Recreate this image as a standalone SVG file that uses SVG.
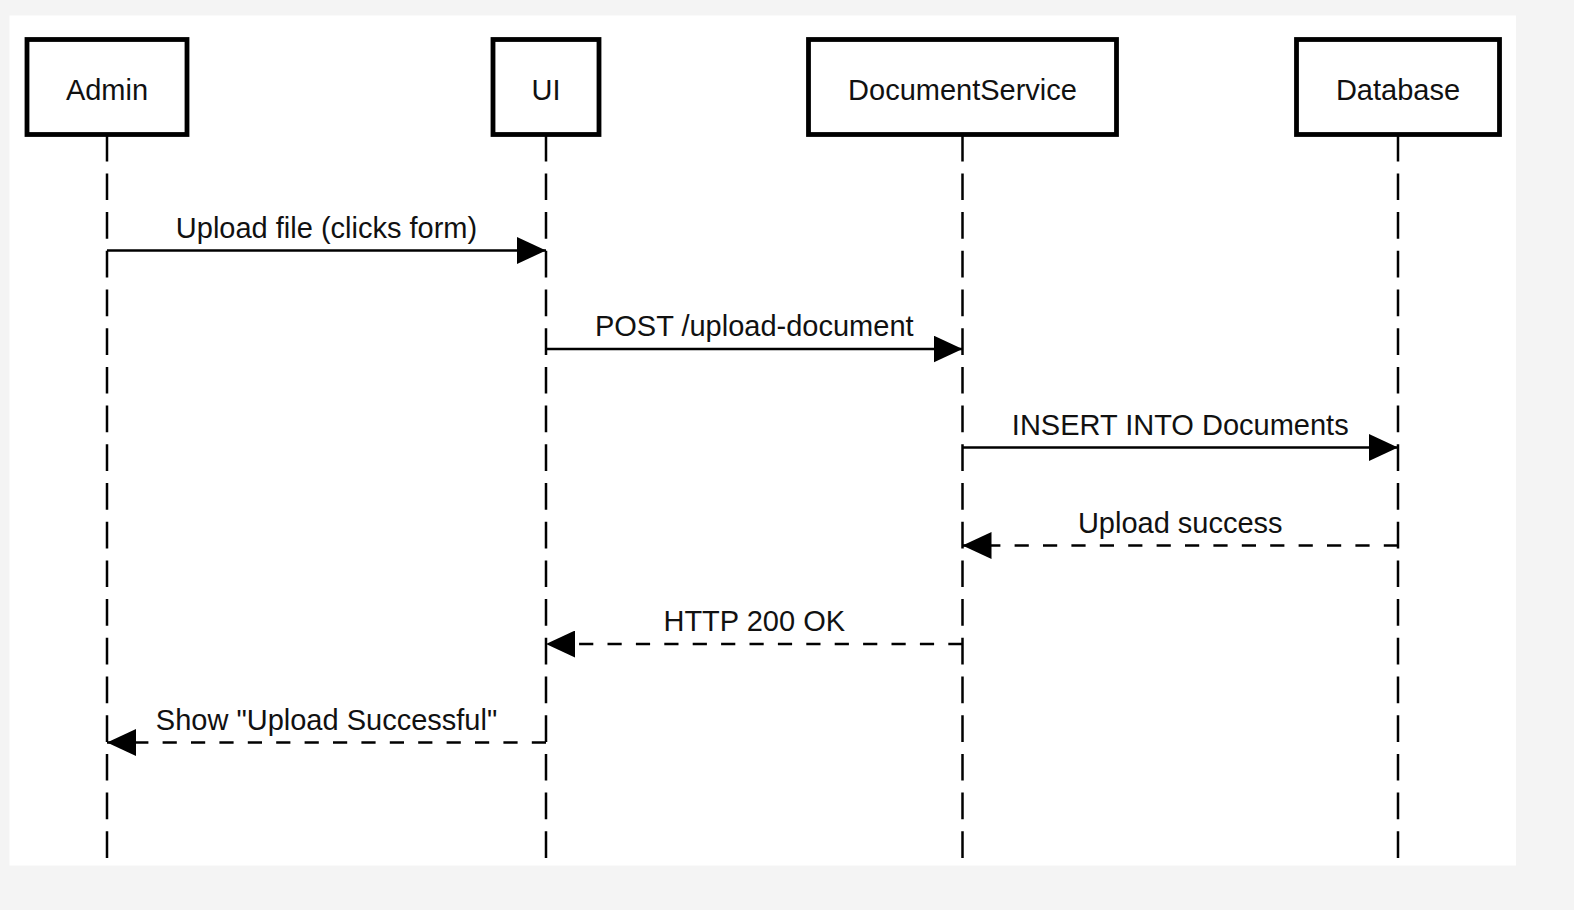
<svg xmlns="http://www.w3.org/2000/svg" width="1574" height="910" viewBox="0 0 1574 910">
  <style>
    .box { fill: #ffffff; stroke: #000000; stroke-width: 4.8; }
    .lbl { font-family: "Liberation Sans", Arial, Helvetica, sans-serif; font-size: 29px; fill: #111111; text-anchor: middle; }
    .life { stroke: #000000; stroke-width: 2.5; stroke-dasharray: 26.7 12; fill: none; }
    .msg { stroke: #000000; stroke-width: 2.5; fill: none; marker-end: url(#arrow); }
    .ret { stroke-dasharray: 14.2 14.2; }
  </style>
  <defs>
    <marker id="arrow" markerUnits="userSpaceOnUse" viewBox="0 0 29 27" markerWidth="29" markerHeight="27" refX="29" refY="13.5" orient="auto">
      <path d="M0,0 L29,13.5 L0,27 Z" fill="#000000"/>
    </marker>
  </defs>
  <rect x="0" y="0" width="1574" height="910" fill="#f4f4f4"/>
  <rect x="9.5" y="15.5" width="1506.5" height="850" fill="#ffffff"/>

  <g id="lifelines">
    <line class="life" x1="107" y1="134.7" x2="107" y2="860"/>
    <line class="life" x1="546" y1="134.7" x2="546" y2="860"/>
    <line class="life" x1="962.5" y1="134.7" x2="962.5" y2="860"/>
    <line class="life" x1="1398" y1="134.7" x2="1398" y2="860"/>
  </g>

  <g id="node-admin">
    <rect class="box" x="27" y="39.5" width="160" height="95"/>
    <text class="lbl" x="107" y="100">Admin</text>
  </g>
  <g id="node-ui">
    <rect class="box" x="493" y="39.5" width="106" height="95"/>
    <text class="lbl" x="546" y="100">UI</text>
  </g>
  <g id="node-documentservice">
    <rect class="box" x="808.5" y="39.5" width="308" height="95"/>
    <text class="lbl" x="962.5" y="100">DocumentService</text>
  </g>
  <g id="node-database">
    <rect class="box" x="1296.5" y="39.5" width="203" height="95"/>
    <text class="lbl" x="1398" y="100">Database</text>
  </g>

  <g id="connectors">
    <line class="msg" x1="107" y1="250.5" x2="546" y2="250.5"/>
    <text class="lbl" x="326.5" y="237.5">Upload file (clicks form)</text>

    <line class="msg" x1="546" y1="349" x2="962.5" y2="349"/>
    <text class="lbl" x="754.25" y="336">POST /upload-document</text>

    <line class="msg" x1="962.5" y1="447.5" x2="1398" y2="447.5"/>
    <text class="lbl" x="1180.25" y="434.5">INSERT INTO Documents</text>

    <line class="msg ret" x1="1398" y1="545.5" x2="962.5" y2="545.5"/>
    <text class="lbl" x="1180.25" y="532.5">Upload success</text>

    <line class="msg ret" x1="962.5" y1="644" x2="546" y2="644"/>
    <text class="lbl" x="754.25" y="631">HTTP 200 OK</text>

    <line class="msg ret" x1="546" y1="742.5" x2="107" y2="742.5"/>
    <text class="lbl" x="326.5" y="729.5">Show "Upload Successful"</text>
  </g>
</svg>
